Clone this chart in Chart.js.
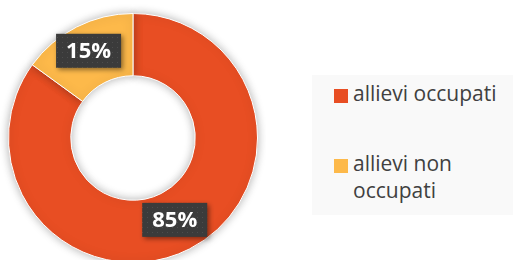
<!DOCTYPE html>
<html>
<head>
<meta charset="utf-8">
<script src="https://cdn.jsdelivr.net/npm/chart.js@4"></script>
<style>
  html, body { margin: 0; padding: 0; background: #fff; overflow: hidden; }
  body { width: 513px; height: 260px; position: relative; font-family: "Open Sans", "Noto Sans", sans-serif; }
  #donut { position: absolute; left: 0; top: 0; }
  #legend { position: absolute; left: 312px; top: 75px; width: 201px; height: 140px; background: #f9f9f9; }
  .item { position: absolute; left: 22px; width: 178px; }
  .sw { position: absolute; left: 0; top: 0; width: 14px; height: 14px; }
  .txt { position: absolute; left: 19px; top: -9px; width: 156px; font-size: 21px; line-height: 27px; color: #404040; white-space: normal; }
</style>
</head>
<body>
<canvas id="donut" width="266" height="276"></canvas>
<div id="legend"></div>
<script>
const labels = ["allievi occupati", "allievi non occupati"];
const values = [85, 15];
const pctLabels = ["85%", "15%"];
const colors = ["#e84e23", "#fdb94a"];

// legenda a destra
const legend = document.getElementById("legend");
const tops = [14, 84];
labels.forEach((l, i) => {
  legend.innerHTML += `
    <div class="item" style="top:${tops[i]}px">
      <div class="sw" style="background:${colors[i]}"></div>
      <div class="txt">${l}</div>
    </div>`;
});

// pattern a puntini per le etichette
function dotPattern(ctx) {
  const c = document.createElement("canvas");
  c.width = 5; c.height = 5;
  const p = c.getContext("2d");
  p.fillStyle = "#3b3b3b";
  p.fillRect(0, 0, 5, 5);
  p.fillStyle = "#4d4d4d";
  p.fillRect(2, 2, 1, 1);
  return ctx.createPattern(c, "repeat");
}

const shadowPlugin = {
  id: "shadow",
  beforeDatasetsDraw(chart) {
    const ctx = chart.ctx;
    ctx.save();
    ctx.shadowColor = "rgba(0,0,0,0.3)";
    ctx.shadowBlur = 10;
  },
  afterDatasetsDraw(chart) {
    chart.ctx.restore();
  }
};

const rShift = [-1.5, 4.5];

const labelPlugin = {
  id: "boxLabels",
  afterDatasetsDraw(chart) {
    const ctx = chart.ctx;
    const meta = chart.getDatasetMeta(0);
    const fill = dotPattern(ctx);
    meta.data.forEach((arc, i) => {
      const mid = (arc.startAngle + arc.endAngle) / 2;
      const r = (arc.innerRadius + arc.outerRadius) / 2 + rShift[i];
      const x = arc.x + Math.cos(mid) * r;
      const y = arc.y + Math.sin(mid) * r;
      const w = 65, h = 34;
      ctx.save();
      ctx.shadowColor = "rgba(0,0,0,0.45)";
      ctx.shadowBlur = 5;
      ctx.shadowOffsetX = 2;
      ctx.shadowOffsetY = 2;
      ctx.fillStyle = fill;
      ctx.fillRect(x - w / 2, y - h / 2, w, h);
      ctx.restore();
      ctx.fillStyle = "#ffffff";
      ctx.font = "bold 22px 'Open Sans', 'Noto Sans', sans-serif";
      ctx.textAlign = "center";
      ctx.textBaseline = "middle";
      ctx.fillText(pctLabels[i], x, y + 1);
    });
  }
};

new Chart(document.getElementById("donut"), {
  type: "doughnut",
  data: {
    labels,
    datasets: [{
      data: values,
      backgroundColor: colors,
      borderColor: "#ffffff",
      borderWidth: 1
    }]
  },
  options: {
    responsive: false,
    animation: false,
    cutout: "50%",
    layout: { padding: 8 },
    plugins: {
      legend: { display: false },
      tooltip: { enabled: false }
    }
  },
  plugins: [shadowPlugin, labelPlugin]
});
</script>
</body>
</html>
